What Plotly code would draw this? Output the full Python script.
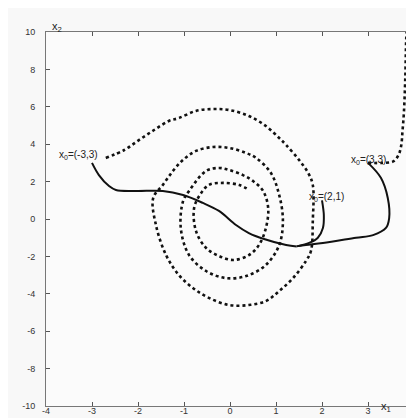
import plotly.graph_objects as go

# Solid closed-loop trajectories
traj1_x = [-3.0, -2.85, -2.63, -2.48, -2.04, -1.46, -1.02, -0.59, -0.24, 0.13, 0.41, 0.74, 1.22, 1.45]
traj1_y = [3.0, 2.35, 1.76, 1.55, 1.50, 1.50, 1.28, 0.86, 0.43, -0.32, -0.75, -1.07, -1.39, -1.47]

traj2_x = [3.0, 3.28, 3.43, 3.46, 3.39, 3.11, 2.74, 2.02, 1.65, 1.45]
traj2_y = [3.0, 2.2, 1.12, 0.05, -0.48, -0.86, -1.0, -1.28, -1.39, -1.46]

traj3_x = [2.0, 2.04, 2.02, 1.91, 1.72, 1.48]
traj3_y = [1.0, 0.2, -0.48, -1.0, -1.28, -1.45]

# Dotted open-loop trajectories
spiral_x = [-2.7, -2.3, -1.98, -1.65, -1.33, -1.11, -0.74, -0.37, -0.02, 0.41, 0.78, 1.07, 1.22, 1.5, 1.7,
            1.8, 1.8, 1.76, 1.65, 1.37, 1.07, 0.78, 0.41, -0.02, -0.46, -0.8, -1.11, -1.39, -1.61, -1.67,
            -1.46, -1.24, -1.02, -0.74, -0.37, -0.02, 0.35, 0.57, 0.89, 1.07, 1.15, 1.07, 0.78, 0.35,
            -0.09, -0.52, -0.89, -1.07, -1.02, -0.89, -0.52, -0.24, -0.02, 0.28, 0.5, 0.72, 0.83, 0.78,
            0.63, 0.41, 0.07, -0.24, -0.52, -0.74, -0.78, -0.65, -0.46, -0.15, 0.2, 0.42]
spiral_y = [3.26, 3.69, 4.22, 4.76, 5.24, 5.4, 5.78, 5.88, 5.83, 5.51, 4.97, 4.33, 3.96, 3.16, 2.46,
            1.82, -0.1, -1.71, -2.25, -3.16, -3.85, -4.39, -4.6, -4.6, -4.22, -3.7, -3.0, -1.93, -0.32, 1.12,
            1.82, 2.57, 3.16, 3.64, 3.85, 3.8, 3.53, 3.26, 2.46, 1.28, -0.1, -1.39, -2.46, -3.05,
            -3.16, -2.78, -1.93, -0.48, 0.96, 1.5, 2.57, 2.73, 2.62, 2.35, 2.03, 1.5, 0.59, -0.48,
            -1.39, -1.93, -2.19, -1.98, -1.55, -0.64, 0.59, 1.3, 1.82, 1.93, 1.82, 1.55]

escape_x = [3.0, 3.3, 3.55, 3.66, 3.72, 3.75, 3.78, 3.81, 3.83, 3.84]
escape_y = [3.0, 3.0, 3.08, 3.4, 3.9, 4.7, 5.67, 7.5, 9.57, 10.0]

x_ticks = [-4, -3, -2, -1, 0, 1, 2, 3, 4]
y_ticks = [-10, -8, -6, -4, -2, 0, 2, 4, 6, 8, 10]

labels = ["x<sub>0</sub>=(-3,3)", "x<sub>0</sub>=(2,1)", "x<sub>0</sub>=(3,3)"]
label_x = [-3.3, 2.1, 3.0]
label_y = [3.4, 1.2, 3.15]

fig = go.Figure()
dot_style = dict(color="#111", width=2.6, dash="3px,3px")
fig.add_trace(go.Scatter(x=spiral_x, y=spiral_y, mode="lines", line=dict(shape="spline", smoothing=1.0, **dot_style)))
fig.add_trace(go.Scatter(x=escape_x, y=escape_y, mode="lines", line=dict(shape="spline", **dot_style)))
for xs, ys in [(traj1_x, traj1_y), (traj2_x, traj2_y), (traj3_x, traj3_y)]:
    fig.add_trace(go.Scatter(x=xs, y=ys, mode="lines",
                             line=dict(color="#111", width=2, shape="spline")))

for t, lx, ly in zip(labels, label_x, label_y):
    fig.add_annotation(x=lx, y=ly, text=t, showarrow=False,
                       font=dict(family="Liberation Sans", size=10, color="#222"))

fig.add_annotation(xref="paper", yref="paper", x=0.943, y=-0.026, text="x<sub>1</sub>",
                   showarrow=False, font=dict(family="Liberation Sans", size=11, color="#222"))
fig.add_annotation(xref="paper", yref="paper", x=0.012, y=1.038, text="x<sub>2</sub>",
                   showarrow=False, font=dict(family="Liberation Sans", size=11, color="#222"))

axis_common = dict(showgrid=False, zeroline=False, showline=True, linecolor="#777", linewidth=1,
                   mirror="ticks", ticks="inside", ticklen=4, tickcolor="#555",
                   tickfont=dict(family="Liberation Sans", size=9, color="#333"))
fig.update_xaxes(range=[-4, 4], tickvals=x_ticks, ticktext=[str(v) for v in x_ticks],
                 ticklabelstandoff=-4, **axis_common)
fig.update_yaxes(range=[-10, 10], tickvals=y_ticks, ticktext=[str(v) for v in y_ticks],
                 ticklabelstandoff=8, **axis_common)

fig.update_layout(width=414, height=418, margin=dict(l=38, r=5, t=24, b=20),
                  paper_bgcolor="#f8f8f8", plot_bgcolor="#fbfbfb", showlegend=False)
fig.write_html("out.html")
